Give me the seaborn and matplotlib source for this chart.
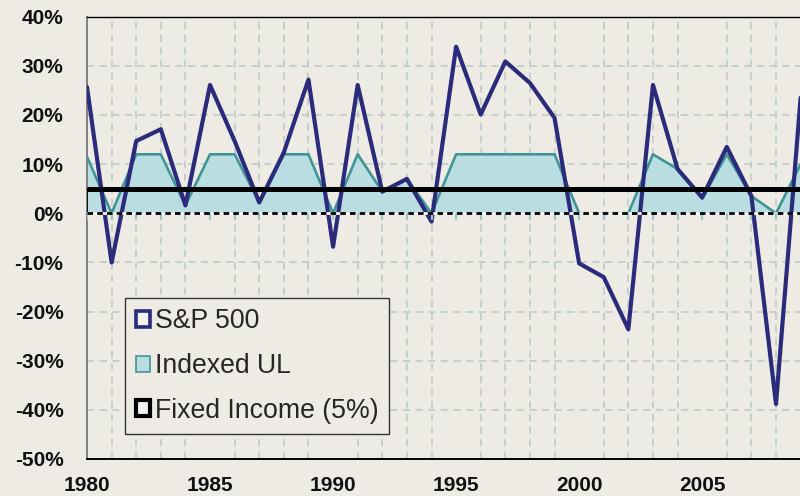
import matplotlib
matplotlib.use("Agg")
import matplotlib.pyplot as plt
import numpy as np
import pandas as pd
import seaborn as sns
from matplotlib.patches import Patch
from matplotlib.ticker import FuncFormatter

# ---- data (annual returns, %) ----
years = list(range(1980, 2010))
sp500 = [25.7, -10.0, 14.7, 17.1, 1.6, 26.1, 14.7, 2.2, 12.4, 27.2,
         -6.8, 26.1, 4.4, 7.0, -1.7, 33.9, 20.1, 30.9, 26.5, 19.4,
         -10.2, -13.0, -23.6, 26.1, 9.0, 3.2, 13.5, 3.5, -38.8, 23.5]
indexed_ul = [11.5, 0.0, 12.0, 12.0, 1.6, 12.0, 12.0, 2.2, 12.0, 12.0,
              0.0, 12.0, 4.4, 7.0, 0.0, 12.0, 12.0, 12.0, 12.0, 12.0,
              0.0, 0.0, 0.0, 12.0, 9.0, 3.0, 12.0, 3.5, 0.0, 10.0]
fixed_income = [5.0] * len(years)
series_labels = ["S&P 500", "Indexed UL", "Fixed Income (5%)"]
y_ticks = list(range(-50, 41, 10))
x_ticks = [1980, 1985, 1990, 1995, 2000, 2005]

df = pd.DataFrame({"year": years, "sp500": sp500,
                   "iul": indexed_ul, "fixed": fixed_income})

# ---- style ----
BG = "#eeebe4"
NAVY = "#2b2b7c"
TEAL_FILL = "#b9dde0"
TEAL_EDGE = "#3f9597"
GRID = "#c3ccc8"

sns.set_theme(style="white")
plt.rcParams["font.family"] = ["Liberation Sans", "DejaVu Sans"]

fig = plt.figure(figsize=(8, 4.96), dpi=100, facecolor=BG)
ax = fig.add_axes([87 / 800, 1 - 459 / 496, 1 - 87 / 800 + 0.002, (459 - 16.7) / 496])
ax.set_facecolor(BG)

# grid
ax.set_xticks(years, minor=True)
ax.grid(True, which="major", axis="y", color=GRID, lw=1.3, dashes=(4, 3))
ax.grid(True, which="minor", axis="x", color=GRID, lw=1.3, dashes=(4, 3))
ax.set_axisbelow(True)

# Indexed UL area
ax.fill_between(df["year"], 0, df["iul"], facecolor=TEAL_FILL,
                edgecolor="none", zorder=2)
ax.plot(df["year"], df["iul"], color=TEAL_EDGE, lw=1.9, zorder=3)

# S&P 500 line
sns.lineplot(data=df, x="year", y="sp500", color=NAVY, lw=3.0,
             ax=ax, zorder=4, legend=False)

# Fixed income area (outline) and its thick top
ax.fill_between(df["year"], 0, df["fixed"], facecolor="none",
                edgecolor="black", lw=1.2, zorder=5)
ax.plot(df["year"], df["fixed"], color="black", lw=3.6,
        solid_capstyle="butt", zorder=6)

# category axis at 0 with small ticks
ax.axhline(0, color="white", lw=2.0, zorder=6)
ax.axhline(0, color="black", lw=2.0, dashes=(2.0, 1.5), zorder=7)
ax.vlines(df["year"], -1.3, 0, color="#9cc4c6", lw=1.6, zorder=6)

# axes limits / ticks
ax.set_xlim(1980, 2009.04)
ax.set_ylim(-50, 40)
ax.set_yticks(y_ticks)
ax.yaxis.set_major_formatter(FuncFormatter(lambda v, p: f"{v:.0f}%"))
ax.set_xticks(x_ticks)
ax.tick_params(axis="y", which="major", length=5, width=1.2, color="#808080",
               direction="out", pad=12, labelsize=15, labelcolor="#111111")
ax.tick_params(axis="x", which="both", length=0, pad=12,
               labelsize=15, labelcolor="#111111")
for lab in ax.get_xticklabels() + ax.get_yticklabels():
    lab.set_fontweight("bold")
ax.set_xlabel("")
ax.set_ylabel("")

ax.spines["left"].set_color("#808080")
ax.spines["left"].set_linewidth(1.4)
ax.spines["bottom"].set_color("black")
ax.spines["bottom"].set_linewidth(1.4)
ax.spines["top"].set_color("black")
ax.spines["top"].set_linewidth(1.0)
ax.spines["right"].set_visible(False)

# legend
handles = [
    Patch(facecolor="#f4f2ee", edgecolor=NAVY, lw=2.6),
    Patch(facecolor=TEAL_FILL, edgecolor=TEAL_EDGE, lw=1.2),
    Patch(facecolor="#f4f2ee", edgecolor="black", lw=3.0),
]
leg = ax.legend(handles, series_labels, loc="upper left",
                bbox_to_anchor=(125 / 800, 1 - 297.7 / 496),
                bbox_transform=fig.transFigure, borderaxespad=0,
                fontsize=19.2, handlelength=0.55, handleheight=0.55,
                handletextpad=0.18, labelspacing=0.7, borderpad=0.4,
                frameon=True, fancybox=False, facecolor=BG,
                edgecolor="#333333", framealpha=1)
leg.get_frame().set_linewidth(1.0)
leg.set_zorder(10)

fig.savefig("out.png", dpi=100, facecolor=BG)
